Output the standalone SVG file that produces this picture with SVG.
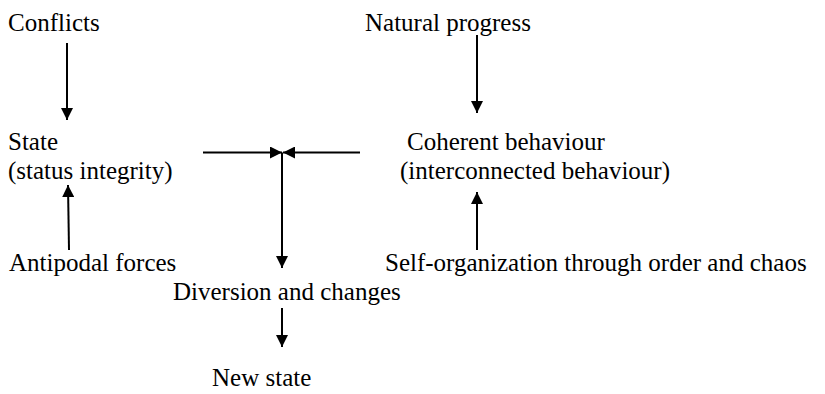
<svg xmlns="http://www.w3.org/2000/svg" width="825" height="394" viewBox="0 0 825 394">
<style>
text{font-family:"Liberation Serif","Times New Roman",serif;font-size:25px;fill:#000}
.c line{stroke:#000;stroke-width:2;fill:none}
</style>
<defs>
<marker id="ah" markerUnits="userSpaceOnUse" markerWidth="13" markerHeight="12" refX="12" refY="6" orient="auto" viewBox="0 0 13 12">
<path d="M0,0 L12,6 L0,12 z" fill="#000"/>
</marker>
</defs>
<rect width="825" height="394" fill="#fff"/>
<g id="conflicts"><text x="8" y="31">Conflicts</text></g>
<g id="natural"><text x="365" y="31">Natural progress</text></g>
<g id="state"><text x="8" y="150">State</text><text x="8" y="179">(status integrity)</text></g>
<g id="coherent"><text x="407" y="150">Coherent behaviour</text><text x="400" y="179">(interconnected behaviour)</text></g>
<g id="antipodal"><text x="9" y="271">Antipodal forces</text></g>
<g id="selforg"><text x="385" y="271">Self-organization through order and chaos</text></g>
<g id="diversion"><text x="173" y="300">Diversion and changes</text></g>
<g id="newstate"><text x="212" y="386">New state</text></g>
<g class="c" id="connectors">
<line x1="67" y1="43" x2="67" y2="120" marker-end="url(#ah)"/>
<line x1="69" y1="250" x2="68" y2="185" marker-end="url(#ah)"/>
<line x1="203" y1="152.5" x2="282" y2="152.5" marker-end="url(#ah)"/>
<line x1="360" y1="152.5" x2="283" y2="152.5" marker-end="url(#ah)"/>
<line x1="282" y1="152.5" x2="282" y2="268" marker-end="url(#ah)"/>
<line x1="282" y1="308" x2="282" y2="347" marker-end="url(#ah)"/>
<line x1="477" y1="35" x2="477" y2="113" marker-end="url(#ah)"/>
<line x1="477" y1="250" x2="477" y2="192" marker-end="url(#ah)"/>
</g>
</svg>
